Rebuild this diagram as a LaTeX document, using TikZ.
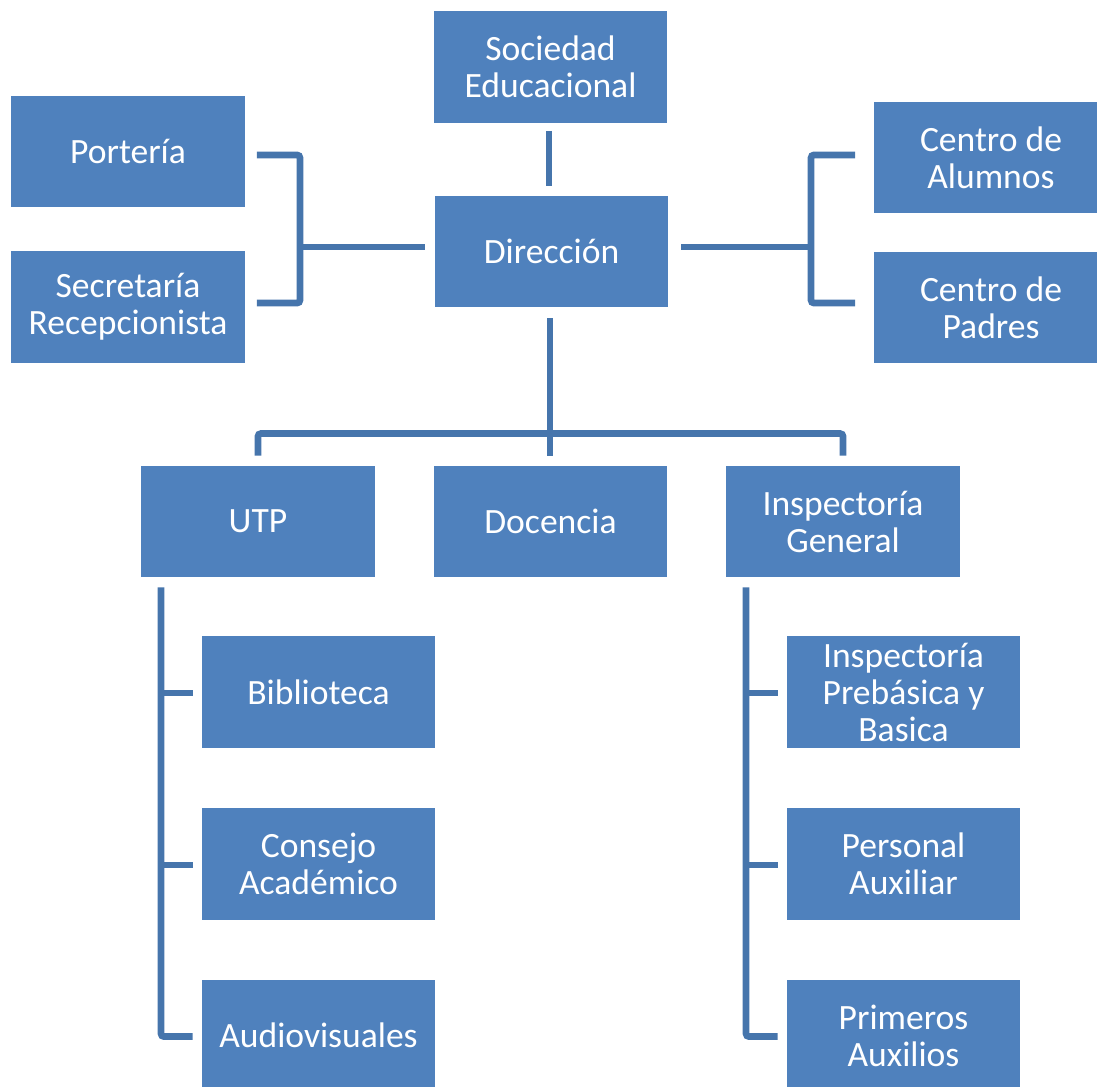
\documentclass[tikz,border=0pt]{standalone}
\usepackage{fontspec}
\setmainfont{Carlito}
\usepackage{xcolor}
\definecolor{orgblue}{RGB}{79,129,189}
\definecolor{linkblue}{RGB}{70,117,172}
\usetikzlibrary{positioning, calc}
\tikzset{
  orgbox/.style={
    rectangle, draw=none, fill=orgblue, text=white,
    minimum width=5.83cm, minimum height=2.78cm, inner sep=0pt,
    align=center, font=\fontsize{25.3}{26.3}\selectfont},
  link/.style={line width=4.8pt, linkblue, rounded corners=2pt},
}
\begin{document}
\begin{tikzpicture}[x=0.025cm, y=-0.025cm]
  \useasboundingbox (0,0) rectangle (1097,1086);
  % top levels
  \node[orgbox] (soc) at (550.5,67) {Sociedad\\Educacional};
  \node[orgbox] (dir) at (551.5,251.5) {Dirección};
  \node[orgbox] (port) at (128,151.5) {Portería};
  \node[orgbox] (sec) at (128,307) {Secretaría\\Recepcionista};
  \node[orgbox] (alum) at (991,157.5) {Centro de\\Alumnos};
  \node[orgbox] (pad) at (991,307.5) {Centro de\\Padres};
  % second level
  \node[orgbox] (utp) at (258,521.5) {UTP};
  \node[orgbox] (doc) at (550.5,521.5) {Docencia};
  \node[orgbox] (insp) at (843,521.5) {Inspectoría\\General};
  % columns
  \node[orgbox] (bib) at (318.5,692) {Biblioteca};
  \node[orgbox] (cons) at (318.5,864) {Consejo\\Académico};
  \node[orgbox] (audio) at (318.5,1035.5) {Audiovisuales};
  \node[orgbox] (preb) at (903.5,692) {Inspectoría\\Prebásica y\\Basica};
  \node[orgbox] (aux) at (903.5,864) {Personal\\Auxiliar};
  \node[orgbox] (prim) at (903.5,1035.5) {Primeros\\Auxilios};

  \draw[link] ($(soc.south)+(-1.5,8)$) -- ($(dir.north)+(-2.5,-10)$);
  % side brackets
  \draw[link] ($(port.east)+(12,3.5)$) -- ++(43,0) |- ($(sec.east)+(12,-4)$);
  \draw[link] ($(dir.west)+(-10,-4.5)$) -- ++(-126,0);
  \draw[link] ($(alum.west)+(-19,-2.5)$) -- ++(-44,0) |- ($(pad.west)+(-19,-4.5)$);
  \draw[link] ($(dir.east)+(13,-4.5)$) -- ++(131,0);
  % down to second level
  \draw[link] ($(dir.south)+(-1.5,11)$) -- ($(doc.north)+(-0.5,-10)$);
  \draw[link] ($(utp.north)+(0,-10)$) -- ++(0,-22) -| ($(insp.north)+(0,-10)$);
  % column brackets
  \draw[link] ($(utp.south west)+(20,10)$) |- ($(audio.west)+(-9,1)$);
  \draw[link] ($(insp.south west)+(20,10)$) |- ($(prim.west)+(-9,1)$);
  \foreach \child in {bib, cons, preb, aux}
    \draw[link] ($(\child.west)+(-9,1)$) -- ++(-34,0);
\end{tikzpicture}
\end{document}
